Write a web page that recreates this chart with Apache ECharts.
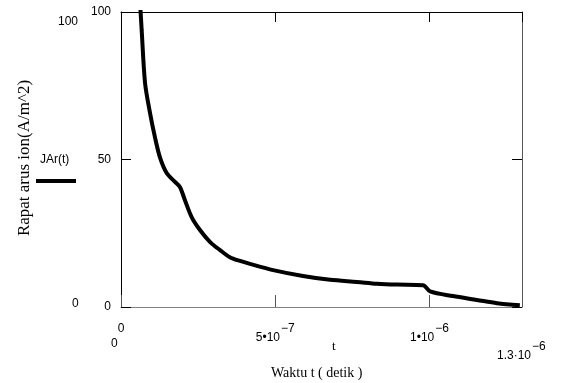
<!DOCTYPE html>
<html>
<head>
<meta charset="utf-8">
<script src="https://cdn.jsdelivr.net/npm/echarts@6/dist/echarts.min.js"></script>
<style>
  html, body { margin: 0; padding: 0; background: #fff; }
  #chart { width: 566px; height: 383px; }
</style>
</head>
<body>
<div id="chart"></div>
<script>
// time in units of 1e-6 s, current density in A/m^2
const timeUs = [0.063, 0.067, 0.078, 0.094, 0.110, 0.126, 0.148, 0.175, 0.191, 0.207, 0.229, 0.256,
  0.289, 0.321, 0.353, 0.386, 0.418, 0.493, 0.590, 0.678, 0.765, 0.830, 0.895, 0.979, 1.002,
  1.076, 1.154, 1.219, 1.293];
const jAr = [101, 93.9, 75.9, 65.8, 57.6, 50.8, 45.4, 42.4, 40.7, 36.3, 30.5, 26.1,
  22.0, 19.3, 16.9, 15.6, 14.6, 12.5, 10.5, 9.2, 8.5, 7.9, 7.6, 7.4, 5.3,
  3.7, 2.4, 1.3, 0.6];
const xTickLabels = { 0: "0", 5: "{b|5•10}{s|−7}", 10: "{b|1•10}{s|−6}" };
const yTickValues = [0, 50, 100];

const points = timeUs.map((t, i) => [t * 1e-6, jAr[i]]);

const chart = echarts.init(document.getElementById("chart"));
const sans = "Liberation Sans";
const serif = "Liberation Serif";

const rich = {
  b: { fontFamily: sans, fontSize: 12, color: "#000", verticalAlign: "bottom" },
  s: { fontFamily: sans, fontSize: 12, color: "#000", verticalAlign: "bottom", padding: [0, 0, 9, 1] }
};

chart.setOption({
  animation: false,
  grid: { left: 121, top: 12, width: 401, height: 295, show: false },
  xAxis: [
    {
      type: "value", min: 0, max: 1.3e-6, interval: 5e-7, position: "bottom",
      axisLine: { show: true, onZero: false, lineStyle: { color: "#808080", width: 1 } },
      axisTick: { show: true, inside: true, length: 12, lineStyle: { color: "#555" } },
      splitLine: { show: false },
      axisLabel: {
        margin: 16, showMaxLabel: false, color: "#000", fontFamily: sans, fontSize: 12, rich,
        formatter: v => xTickLabels[Math.round(v * 1e7)] || ""
      }
    },
    {
      type: "value", min: 0, max: 1.3e-6, interval: 5e-7, position: "top",
      axisLine: { show: true, onZero: false, lineStyle: { color: "#000", width: 1 } },
      axisTick: { show: true, inside: true, length: 10, lineStyle: { color: "#000" } },
      splitLine: { show: false }, axisLabel: { show: false }
    }
  ],
  yAxis: [
    {
      type: "value", min: 0, max: 100, interval: 50, position: "left",
      axisLine: { show: true, onZero: false, lineStyle: { color: "#000", width: 1 } },
      axisTick: { show: true, inside: true, length: 10, lineStyle: { color: "#000" } },
      splitLine: { show: false },
      axisLabel: {
        margin: 10, color: "#000", fontFamily: sans, fontSize: 12,
        formatter: v => yTickValues.includes(v) ? String(v) : ""
      }
    },
    {
      type: "value", min: 0, max: 100, interval: 50, position: "right",
      axisLine: { show: true, onZero: false, lineStyle: { color: "#555", width: 1 } },
      axisTick: { show: true, inside: true, length: 10, lineStyle: { color: "#000" } },
      splitLine: { show: false }, axisLabel: { show: false }
    }
  ],
  series: [{
    name: "JAr(t)", type: "line", data: points, showSymbol: false, clip: true, smooth: 0.3,
    lineStyle: { color: "#000", width: 4 }
  }],
  graphic: [
    { type: "text", left: 58, top: 16, style: { text: "100", fontFamily: sans, fontSize: 12, fill: "#000" } },
    { type: "text", left: 72, top: 298, style: { text: "0", fontFamily: sans, fontSize: 12, fill: "#000" } },
    { type: "text", left: 111, top: 338, style: { text: "0", fontFamily: sans, fontSize: 12, fill: "#000" } },
    { type: "text", left: 332, top: 340, style: { text: "t", fontFamily: serif, fontSize: 13, fill: "#000" } },
    { type: "text", left: 497, top: 341, style: { text: "{b|1.3·10}{s|−6}", rich } },
    { type: "text", left: 271, top: 366, style: { text: "Waktu t ( detik )", fontFamily: serif, fontSize: 14, fill: "#000" } },
    {
      type: "text", x: 25, y: 158, rotation: Math.PI / 2,
      style: { text: "Rapat arus ion(A/m^2)", fontFamily: serif, fontSize: 17, fill: "#000", align: "center", verticalAlign: "middle" }
    },
    { type: "text", left: 40, top: 154, style: { text: "JAr(t)", fontFamily: sans, fontSize: 12, fill: "#000" } },
    { type: "line", shape: { x1: 36, y1: 181, x2: 76, y2: 181 }, style: { stroke: "#000", lineWidth: 4 } }
  ]
});
</script>
</body>
</html>
